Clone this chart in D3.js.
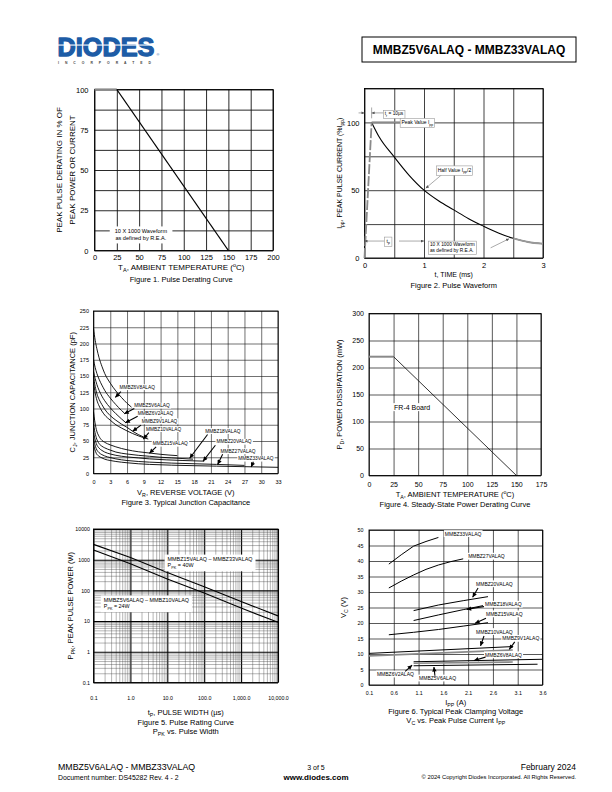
<!DOCTYPE html>
<html><head><meta charset="utf-8">
<script src="https://cdn.jsdelivr.net/npm/d3@7/dist/d3.min.js"></script>
<style>html,body{margin:0;padding:0;background:#fff}svg{display:block}</style>
</head><body>
<svg id="page" width="612" height="792" xmlns="http://www.w3.org/2000/svg"></svg>
<script>
// ================= DATA =================
// Figure 1 – Pulse derating
const fig1Temp = [0, 25, 150];
const fig1Derating = [100, 100, 0];
const fig1XTicks = [0, 25, 50, 75, 100, 125, 150, 175, 200];
const fig1YTicks = [0, 25, 50, 75, 100];
const fig1YGrid = [0, 12.5, 25, 37.5, 50, 62.5, 75, 87.5, 100];

// Figure 2 – Pulse waveform
const fig2RiseTime = [0, 0.12];
const fig2RiseCurrent = [0, 100];
const fig2DecayTime = [0.12, 0.25, 0.5, 0.75, 1.0, 1.25, 1.5, 1.75, 2.0, 2.25, 2.5, 2.75, 3.0];
const fig2DecayCurrent = [100, 89, 74.5, 61, 50, 42, 35.5, 29, 23.5, 18.5, 14.5, 11.8, 10.5];
const fig2XTicks = [0, 1, 2, 3];
const fig2YTicks = [0, 50, 100];
const fig2XGrid = [0, 0.5, 1, 1.5, 2, 2.5, 3];
const fig2YGrid = [0, 25, 50, 75, 100, 125];

// Figure 3 – Junction capacitance (V, pF)
const cap6V8 = [[0,223],[0.3,205],[0.6,192],[1,178],[1.5,165],[2,154],[3,139],[4,127],[5,117],[6,108],[6.8,102]];
const cap5V6 = [[0,175],[0.3,163],[0.6,154],[1,145],[1.5,136],[2,128],[3,116],[4,106],[5,97],[5.5,93]];
const cap6V2 = [[0,157],[0.3,146],[0.6,137],[1,128],[1.5,119],[2,112],[3,101],[4,92],[5,84],[5.8,78]];
const cap9V1 = [[0,150],[0.3,134],[0.6,123],[1,114],[1.5,106],[2,99],[3,89],[4,82],[5,76],[6,71],[7,65],[8,60],[9,56]];
const cap10V = [[0,140],[0.3,124],[0.6,113],[1,104],[1.5,96],[2,90],[3,82],[4,75],[5,70],[6,65.5],[7,61.5],[8,58],[9,55],[9.8,53]];
const cap15V = [[0,95],[0.2,82],[0.5,68],[1,57],[1.5,51],[2,48],[3,44],[4,41],[5,38.5],[6,36.5],[8,33.5],[10,31.5],[12,29.5],[15,27.5]];
const cap18V = [[0,76],[0.2,66],[0.5,55],[1,46],[1.5,42],[2,39.5],[3,36],[4,33],[6,30],[8,28],[10,26.5],[12,25],[14,24],[16,23],[17.8,22]];
const cap20V = [[0,63],[0.2,55],[0.5,46],[1,39],[1.5,35.5],[2,33],[3,30],[4,28],[6,25.5],[8,24],[10,22.5],[13,21],[16,20],[19.8,19]];
const cap27V = [[0,53],[0.2,46],[0.5,38],[1,32],[1.5,29],[2,27],[3,24.5],[4,22.5],[6,20],[8,18.5],[10,17.5],[14,16],[18,15],[22,14],[27,12.5]];
const cap33V = [[0,44],[0.2,38],[0.5,31],[1,26.5],[1.5,24],[2,22],[3,20],[4,18.5],[6,16.5],[8,15],[10,14],[14,12.8],[18,12],[22,11.3],[27,10.5],[33,9.5]];
const fig3Names = ["MMBZ6V8ALAQ","MMBZ5V6ALAQ","MMBZ6V2ALAQ","MMBZ9V1ALAQ","MMBZ10VALAQ","MMBZ15VALAQ","MMBZ18VALAQ","MMBZ20VALAQ","MMBZ27VALAQ","MMBZ33VALAQ"];
const fig3XTicks = [0,3,6,9,12,15,18,21,24,27,30,33];
const fig3YTicks = [0,25,50,75,100,125,150,175,200,225,250];

// Figure 4 – Steady-state power derating
const fig4Temp = [0, 25, 150];
const fig4Power = [220, 220, 0];
const fig4XTicks = [0, 25, 50, 75, 100, 125, 150, 175];
const fig4YTicks = [0, 50, 100, 150, 200, 250, 300];

// Figure 5 – Pulse rating curve (µs, W)
const fig5PulseWidth = [0.1, 1, 10, 100, 1000, 10000];
const fig5Ppk40W = [3160, 1170, 380, 132, 43.6, 14.8];
const fig5Ppk24W = [2075, 742, 237, 81.6, 26.5, 9.2];
const fig5XTicks = [0.1, 1, 10, 100, 1000, 10000];
const fig5XLabels = ["0.1", "1.0", "10.0", "100.0", "1,000.0", "10,000.0"];
const fig5YTicks = [0.1, 1, 10, 100, 1000, 10000];
const fig5YLabels = ["0.1", "1", "10", "100", "1000", "10000"];

// Figure 6 – Clamping voltage (A, V)
const vc33V = [[0.5,39],[0.75,42],[1.0,44.8],[1.25,46.3],[1.5,47.6]];
const vc27V = [[0.5,31.3],[0.75,33.5],[1.0,35.5],[1.25,37.3],[1.5,38.7],[1.75,39.8],[2.0,40.7]];
const vc20V = [[1.0,24.0],[1.5,25.8],[2.0,27.2],[2.5,28.5]];
const vc18V = [[1.0,20.8],[1.5,22.6],[2.0,24.3],[2.4,25.6]];
const vc15V = [[0.5,16.2],[1.0,17.0],[1.5,17.9],[2.0,19.0],[2.5,20.1]];
const vc10V = [[0.1,10.2],[3.0,12.4]];
const vc9V1 = [[0.1,9.4],[3.0,11.3]];
const vc6V8 = [[1.0,7.5],[3.6,8.3]];
const vc6V2 = [[1.0,7.0],[3.0,7.4]];
const vc5V6 = [[1.0,6.2],[3.5,6.7]];
const fig6Names = ["MMBZ33VALAQ","MMBZ27VALAQ","MMBZ20VALAQ","MMBZ18VALAQ","MMBZ15VALAQ","MMBZ10VALAQ","MMBZ9V1ALAQ","MMBZ6V8ALAQ","MMBZ6V2ALAQ","MMBZ5V6ALAQ"];
const fig6XTicks = [0.1, 0.6, 1.1, 1.6, 2.1, 2.6, 3.1, 3.6];
const fig6YTicks = [0,5,10,15,20,25,30,35,40,45,50];

// ================= DRAWING =================
const FONT = "'Liberation Sans', Arial, Helvetica, sans-serif";
const svg = d3.select("#page").attr("font-family", FONT);
const defs = svg.append("defs");
function marker(id, color, w, h) {
  defs.append("marker").attr("id", id).attr("viewBox", "0 0 10 10").attr("refX", 10).attr("refY", 5)
    .attr("markerWidth", w).attr("markerHeight", h).attr("markerUnits", "userSpaceOnUse").attr("orient", "auto")
    .append("path").attr("d", "M0,0L10,5L0,10z").attr("fill", color);
}
marker("ahB", "#000", 5.5, 4.5);
marker("ahG", "#555", 4, 3);

function richText(g, x, y, parts, size, anchor, rotate) {
  const t = g.append("text").attr("x", x).attr("y", y).attr("font-size", size)
    .attr("text-anchor", anchor || "start").attr("fill", "#000");
  if (rotate) t.attr("transform", `rotate(-90,${x},${y})`);
  let shift = 0;
  (typeof parts === "string" ? [[parts]] : parts).forEach(([s, mode]) => {
    const target = mode === "sub" ? size * 0.28 : mode === "sup" ? -size * 0.38 : 0;
    const ts = t.append("tspan").attr("dy", target - shift).text(s);
    if (mode) ts.attr("font-size", size * 0.7);
    shift = target;
  });
  return t;
}
function boxedText(g, x, y, lines, size, opt = {}) {
  const grp = g.append("g");
  const lh = opt.lh || size * 1.2;
  lines.forEach((parts, i) => richText(grp, x, y + i * lh, parts, size, opt.anchor || "start"));
  const bb = grp.node().getBBox();
  const px = opt.padX ?? 1, py = opt.padY ?? 0.5;
  grp.insert("rect", ":first-child").attr("x", bb.x - px).attr("y", bb.y - py)
    .attr("width", bb.width + 2 * px).attr("height", bb.height + 2 * py)
    .attr("fill", "#fff").attr("stroke", opt.border || "none").attr("stroke-width", 0.6);
  return grp;
}
function arrow(g, x1, y1, x2, y2, color, width, mk) {
  g.append("line").attr("x1", x1).attr("y1", y1).attr("x2", x2).attr("y2", y2)
    .attr("stroke", color).attr("stroke-width", width).attr("marker-end", `url(#${mk})`);
}

function makePanel(o) {
  const g = svg.append("g");
  const x = (o.xLog ? d3.scaleLog() : d3.scaleLinear()).domain(o.xDomain).range([o.left, o.right]);
  const y = (o.yLog ? d3.scaleLog() : d3.scaleLinear()).domain(o.yDomain).range([o.bottom, o.top]);
  const w = o.right - o.left, h = o.bottom - o.top;
  const gx = g.append("g").attr("transform", `translate(0,${o.bottom})`)
    .call(d3.axisBottom(x).tickValues(o.xGrid).tickSize(-h).tickFormat(""));
  const gy = g.append("g").attr("transform", `translate(${o.left},0)`)
    .call(d3.axisLeft(y).tickValues(o.yGrid).tickSize(-w).tickFormat(""));
  [gx, gy].forEach(a => {
    a.select(".domain").remove();
    a.selectAll(".tick line").attr("stroke", d => o.major ? (o.major(d) ? "#000" : "#444") : (o.gridColor || "#111"))
      .attr("stroke-width", d => o.major ? (o.major(d) ? 1.1 : 0.4) : (o.gridWidth || 0.7));
  });
  g.append("rect").attr("x", o.left).attr("y", o.top).attr("width", w).attr("height", h)
    .attr("fill", "none").attr("stroke", "#000").attr("stroke-width", o.frameWidth || 0.9);
  const lx = g.append("g").attr("transform", `translate(0,${o.bottom})`)
    .call(d3.axisBottom(x).tickValues(o.xTicks).tickSize(0).tickFormat(o.xFormat || (d => d)));
  lx.select(".domain").remove();
  lx.attr("font-family", null).attr("font-size", null);
  lx.selectAll("text").attr("y", o.xPad).attr("dy", 0).attr("font-size", o.tickFont).attr("fill", "#000");
  const ly = g.append("g").attr("transform", `translate(${o.left},0)`)
    .call(d3.axisLeft(y).tickValues(o.yTicks).tickSize(0).tickPadding(o.yPad).tickFormat(o.yFormat || (d => d)));
  ly.select(".domain").remove();
  ly.attr("font-family", null).attr("font-size", null);
  ly.selectAll("text").attr("dy", "0.35em").attr("font-size", o.tickFont).attr("fill", "#000");
  const cx = (o.left + o.right) / 2 + (o.titleShift || 0);
  richText(g, cx, o.xTitleY, o.xTitle, o.titleFont, "middle");
  o.yTitle.forEach((t, i) => richText(g, o.yTitleX[i], (o.top + o.bottom) / 2, t, o.titleFont, "middle", true));
  o.caption.forEach((t, i) => richText(g, cx, o.captionY + i * 9, t, o.captionFont, "middle"));
  const line = d3.line().x(d => x(d[0])).y(d => y(d[1]));
  return { g, x, y, line };
}

// ---------- Header ----------
const logo = svg.append("g");
logo.append("text").attr("x", 57.5).attr("y", 55.5).attr("font-weight", "bold").attr("font-size", 25)
  .attr("fill", "#1d5ca6").attr("stroke", "#1d5ca6").attr("stroke-width", 1.3).attr("stroke-linejoin", "round")
  .attr("textLength", 97).attr("lengthAdjust", "spacingAndGlyphs").text("DIODES");
logo.append("rect").attr("x", 56).attr("y", 44.5).attr("width", 100).attr("height", 1.1).attr("fill", "#fff");
logo.append("text").attr("x", 156.5).attr("y", 56).attr("font-size", 3.8).attr("fill", "#1d5ca6").text("®");
logo.append("text").attr("x", 58).attr("y", 64).attr("font-size", 3.4).attr("font-weight", "bold").attr("fill", "#444")
  .attr("textLength", 93).attr("lengthAdjust", "spacing").text("INCORPORATED");
svg.append("rect").attr("x", 362).attr("y", 37).attr("width", 214).attr("height", 25)
  .attr("fill", "none").attr("stroke", "#000").attr("stroke-width", 1);
svg.append("text").attr("x", 469).attr("y", 54).attr("text-anchor", "middle").attr("font-weight", "bold")
  .attr("font-size", 12).text("MMBZ5V6ALAQ - MMBZ33VALAQ");

// ---------- Figure 1 ----------
{
  const p = makePanel({
    left: 94.5, right: 273, top: 89.5, bottom: 250.5, xDomain: [0, 200], yDomain: [0, 100],
    xGrid: fig1XTicks, yGrid: fig1YGrid, xTicks: fig1XTicks, yTicks: fig1YTicks, gridWidth: 0.9,
    tickFont: 7.5, xPad: 9, yPad: 6, titleFont: 8, captionFont: 7.5, titleShift: -2.5,
    xTitleY: 270, xTitle: [["T"], ["A", "sub"], [", AMBIENT TEMPERATURE ("], ["o", "sup"], ["C)"]],
    yTitleX: [62, 74.5], yTitle: ["PEAK PULSE DERATING IN % OF", "PEAK POWER OR CURRENT"],
    captionY: 282, caption: ["Figure 1. Pulse Derating Curve"]
  });
  const pts = d3.zip(fig1Temp, fig1Derating);
  p.g.append("path").attr("d", p.line(pts.slice(0, 2))).attr("fill", "none").attr("stroke", "#8a8a8a").attr("stroke-width", 2.2);
  p.g.append("path").attr("d", p.line(pts.slice(1))).attr("fill", "none").attr("stroke", "#000").attr("stroke-width", 1.3);
  boxedText(p.g, p.x(52), p.y(10.6), ["10 X 1000 Waveform", "as defined by R.E.A."], 5.6,
    { anchor: "middle", padX: 5, padY: 2, lh: 7 });
}

// ---------- Figure 2 ----------
{
  const p = makePanel({
    left: 364.5, right: 543, top: 88.5, bottom: 258, xDomain: [0, 3], yDomain: [0, 125],
    xGrid: fig2XGrid, yGrid: fig2YGrid, xTicks: fig2XTicks, yTicks: fig2YTicks, gridWidth: 0.8,
    tickFont: 7.5, xPad: 9.5, yPad: 5, titleFont: 7, captionFont: 7.5,
    xTitleY: 277, xTitle: "t, TIME (ms)",
    yTitleX: [342], yTitle: [[["I"], ["pp", "sub"], [", PEAK PULSE CURRENT (%I"], ["pp", "sub"], [")"]]],
    captionY: 287.5, caption: ["Figure 2. Pulse Waveform"]
  });
  const { g, x, y, line } = p;
  const decay = d3.zip(fig2DecayTime, fig2DecayCurrent);
  g.append("path").attr("d", line.curve(d3.curveMonotoneX)(decay)).attr("fill", "none").attr("stroke", "#000").attr("stroke-width", 1.1);
  g.append("path").attr("d", line(decay.filter(d => d[0] >= 2.5))).attr("fill", "none").attr("stroke", "#999").attr("stroke-width", 1.8);
  line.curve(d3.curveLinear);
  g.append("path").attr("d", line(d3.zip(fig2RiseTime, fig2RiseCurrent))).attr("fill", "none")
    .attr("stroke", "#8a8a8a").attr("stroke-width", 1.8).attr("stroke-dasharray", "10,2");
  g.append("line").attr("x1", x(0.12)).attr("y1", y(100)).attr("x2", x(0.6)).attr("y2", y(100)).attr("stroke", "#8a8a8a").attr("stroke-width", 2);
  arrow(g, x(-0.1), y(107), x(0), y(107), "#555", 0.5, "ahG");
  g.append("line").attr("x1", x(0.12)).attr("y1", y(103)).attr("x2", x(0.12)).attr("y2", y(111)).attr("stroke", "#555").attr("stroke-width", 0.5);
  arrow(g, x(0.32), y(107), x(0.12), y(107), "#555", 0.5, "ahG");
  boxedText(g, x(0.34), y(105.3), [[["t"], ["r", "sub"], [" = 10µs"]]], 4.8, { border: "#999", padX: 1.2, padY: 0.8 });
  boxedText(g, x(0.62), y(98.6), [[["Peak Value I"], ["pp", "sub"]]], 5, { border: "#999", padX: 1.2, padY: 1 });
  arrow(g, x(1.3), y(61.5), x(1.03), y(51.5), "#555", 0.5, "ahG");
  boxedText(g, x(1.23), y(63.5), [[["Half Value I"], ["pp", "sub"], ["/2"]]], 5, { border: "#999", padX: 1.2, padY: 1 });
  arrow(g, x(0.34), y(12.5), x(0), y(12.5), "#555", 0.5, "ahG");
  arrow(g, x(0.58), y(12.5), x(1.0), y(12.5), "#555", 0.5, "ahG");
  boxedText(g, x(0.37), y(11), [[["t"], ["p", "sub"]]], 5, { border: "#999", padX: 2, padY: 1 });
  arrow(g, x(2.12), y(7.5), x(2.43), y(14.2), "#555", 0.5, "ahG");
  boxedText(g, x(1.1), y(8.6), ["10 X 1000 Waveform", "as defined by R.E.A."], 4.8, { border: "#999", padX: 1.5, padY: 1.2, lh: 6 });
}

// ---------- Figure 3 ----------
{
  const p = makePanel({
    left: 93.5, right: 278, top: 311, bottom: 473.5, xDomain: [0, 33], yDomain: [0, 250],
    xGrid: fig3XTicks, yGrid: fig3YTicks, xTicks: fig3XTicks, yTicks: fig3YTicks, gridWidth: 0.6,
    tickFont: 5.5, xPad: 10.5, yPad: 4.5, titleFont: 7.5, captionFont: 7.5,
    xTitleY: 494.5, xTitle: [["V"], ["R", "sub"], [", REVERSE VOLTAGE (V)"]],
    yTitleX: [74.5], yTitle: [[["C"], ["J", "sub"], [", JUNCTION CAPACITANCE (pF)"]]],
    captionY: 504.5, caption: ["Figure 3. Typical Junction Capacitance"]
  });
  const { g, x, y, line } = p;
  line.curve(d3.curveMonotoneX);
  [cap6V8, cap5V6, cap6V2, cap9V1, cap10V, cap15V, cap18V, cap20V, cap27V, cap33V].forEach(c =>
    g.append("path").attr("d", line(c)).attr("fill", "none").attr("stroke", "#000").attr("stroke-width", 0.9));
  const ann = [
    [4.65, 130.5, 4.9, 126, 3.9, 117], [7.3, 102, 7.3, 100, 5.5, 92], [7.9, 89.5, 7.9, 88, 5.7, 78],
    [8.65, 78, 8.5, 74.5, 7.0, 65], [9.4, 66, 9.9, 63, 8.9, 53], [10.6, 43.5, 11.2, 41, 10.0, 31],
    [20.0, 63, 20.4, 60, 17.2, 23.5], [22.0, 46.5, 21.8, 43.5, 19.6, 19], [22.7, 32, 23.1, 29.5, 22.2, 14],
    [25.9, 20.5, 28.6, 18, 28.2, 10]
  ];
  ann.forEach((a, i) => boxedText(g, x(a[0]), y(a[1]), [fig3Names[i]], 4.8, { padX: 1, padY: 0.4 }));
  ann.forEach(a => arrow(g, x(a[2]), y(a[3]), x(a[4]), y(a[5]), "#000", 1.1, "ahB"));
}

// ---------- Figure 4 ----------
{
  const p = makePanel({
    left: 369, right: 541, top: 313.5, bottom: 475.5, xDomain: [0, 175], yDomain: [0, 300],
    xGrid: fig4XTicks, yGrid: fig4YTicks, xTicks: fig4XTicks, yTicks: fig4YTicks, gridWidth: 0.7,
    tickFont: 7, xPad: 11, yPad: 5, titleFont: 7.5, captionFont: 7.5,
    xTitleY: 497, xTitle: [["T"], ["A", "sub"], [", AMBIENT TEMPERATURE ("], ["o", "sup"], ["C)"]],
    yTitleX: [342], yTitle: [[["P"], ["D", "sub"], [", POWER DISSIPATION (mW)"]]],
    captionY: 506.5, caption: ["Figure 4. Steady-State Power Derating Curve"]
  });
  const pts = d3.zip(fig4Temp, fig4Power);
  p.g.append("path").attr("d", p.line(pts.slice(0, 2))).attr("fill", "none").attr("stroke", "#8a8a8a").attr("stroke-width", 2);
  p.g.append("path").attr("d", p.line(pts.slice(1))).attr("fill", "none").attr("stroke", "#000").attr("stroke-width", 0.8);
  boxedText(p.g, p.x(25.5), p.y(122), ["FR-4 Board"], 7, { padX: 1, padY: 0.5 });
}

// ---------- Figure 5 ----------
{
  const grid = [];
  for (let e = -1; e <= 3; e++) for (let m = 1; m <= 9; m++) grid.push(+(m * Math.pow(10, e)).toPrecision(3));
  grid.push(10000);
  const isMajor = d => Math.abs(Math.log10(d) - Math.round(Math.log10(d))) < 1e-6;
  const p = makePanel({
    left: 93.5, right: 278, top: 529, bottom: 682.5, xLog: true, yLog: true,
    xDomain: [0.1, 10000], yDomain: [0.1, 10000], xGrid: grid, yGrid: grid, major: isMajor,
    xTicks: fig5XTicks, yTicks: fig5YTicks,
    xFormat: d => fig5XLabels[fig5XTicks.indexOf(d)], yFormat: d => fig5YLabels[fig5YTicks.indexOf(d)],
    tickFont: 5.3, xPad: 17, yPad: 3.5, titleFont: 7.5, captionFont: 7.5,
    xTitleY: 714.5, xTitle: [["t"], ["P", "sub"], [", PULSE WIDTH (µs)"]],
    yTitleX: [73], yTitle: [[["P"], ["PK", "sub"], [", PEAK PULSE POWER (W)"]]],
    captionY: 725, caption: ["Figure 5. Pulse Rating Curve", [["P"], ["PK", "sub"], [" vs. Pulse Width"]]]
  });
  const { g, x, y, line } = p;
  g.append("path").attr("d", line(d3.zip(fig5PulseWidth, fig5Ppk40W))).attr("fill", "none").attr("stroke", "#000").attr("stroke-width", 1.1);
  g.append("path").attr("d", line(d3.zip(fig5PulseWidth, fig5Ppk24W))).attr("fill", "none").attr("stroke", "#000").attr("stroke-width", 1.1);
  boxedText(g, x(10.2), y(900), ["MMBZ15VALAQ – MMBZ33VALAQ", [["P"], ["PK", "sub"], [" = 40W"]]], 5.4, { padX: 3, padY: 1.5, lh: 6.2 });
  boxedText(g, x(0.19), y(42), ["MMBZ5V6ALAQ – MMBZ10VALAQ", [["P"], ["PK", "sub"], [" = 24W"]]], 5.4, { padX: 3, padY: 1.5, lh: 6.2 });
}

// ---------- Figure 6 ----------
{
  const p = makePanel({
    left: 369, right: 542.5, top: 530, bottom: 685, xDomain: [0.1, 3.6], yDomain: [0, 50],
    xGrid: fig6XTicks, yGrid: fig6YTicks, xTicks: fig6XTicks, yTicks: fig6YTicks, gridWidth: 0.7,
    xFormat: d3.format(".1f"),
    tickFont: 5.3, xPad: 10, yPad: 5.5, titleFont: 7.5, captionFont: 7.5,
    xTitleY: 704.5, xTitle: [["I"], ["PP", "sub"], [" (A)"]],
    yTitleX: [346], yTitle: [[["V"], ["C", "sub"], [" (V)"]]],
    captionY: 713.5, caption: ["Figure 6. Typical Peak Clamping Voltage", [["V"], ["C", "sub"], [" vs. Peak Pulse Current I"], ["PP", "sub"]]]
  });
  const { g, x, y, line } = p;
  const series = [vc33V, vc27V, vc20V, vc18V, vc15V, vc10V, vc9V1, vc6V8, vc6V2, vc5V6];
  const grey = [false, false, false, false, false, false, true, false, true, false];
  series.forEach((s, i) => g.append("path").attr("d", line(s)).attr("fill", "none")
    .attr("stroke", grey[i] ? "#8a8a8a" : "#000").attr("stroke-width", grey[i] ? 1.6 : 1));
  const ann = [
    [1.63, 48.2], [2.1, 40.9], [2.26, 32.0, 2.3, 31.3, 2.19, 28.3], [2.44, 25.4, 2.42, 25.3, 2.07, 24.4],
    [2.46, 22.3, 2.46, 21.5, 2.24, 19.9], [2.26, 16.6, 2.42, 15.8, 2.35, 12.6], [2.79, 14.4, 3.04, 13.9, 2.93, 11.5],
    [2.44, 9.1, 2.45, 9.0, 2.22, 7.9], [0.26, 2.9, 0.83, 4.4, 0.97, 6.4], [1.11, 1.6, 1.43, 3.0, 1.41, 5.8]
  ];
  ann.forEach((a, i) => boxedText(g, x(a[0]), y(a[1]), [fig6Names[i]], 5, { padX: 1, padY: 0.4 }));
  ann.forEach(a => { if (a.length > 2) arrow(g, x(a[2]), y(a[3]), x(a[4]), y(a[5]), "#000", 1.1, "ahB"); });
}

// ---------- Footer ----------
svg.append("text").attr("x", 58).attr("y", 770).attr("font-size", 8.8).text("MMBZ5V6ALAQ - MMBZ33VALAQ");
svg.append("text").attr("x", 58).attr("y", 779.5).attr("font-size", 6.9).text("Document number: DS45282 Rev. 4 - 2");
svg.append("text").attr("x", 316).attr("y", 769.5).attr("font-size", 7).attr("text-anchor", "middle").text("3 of 5");
svg.append("text").attr("x", 316).attr("y", 779.5).attr("font-size", 8).attr("font-weight", "bold").attr("text-anchor", "middle").text("www.diodes.com");
svg.append("text").attr("x", 576).attr("y", 770).attr("font-size", 8.5).attr("text-anchor", "end").text("February 2024");
svg.append("text").attr("x", 576).attr("y", 779).attr("font-size", 5.8).attr("text-anchor", "end").text("© 2024 Copyright Diodes Incorporated. All Rights Reserved.");
</script>
</body></html>
